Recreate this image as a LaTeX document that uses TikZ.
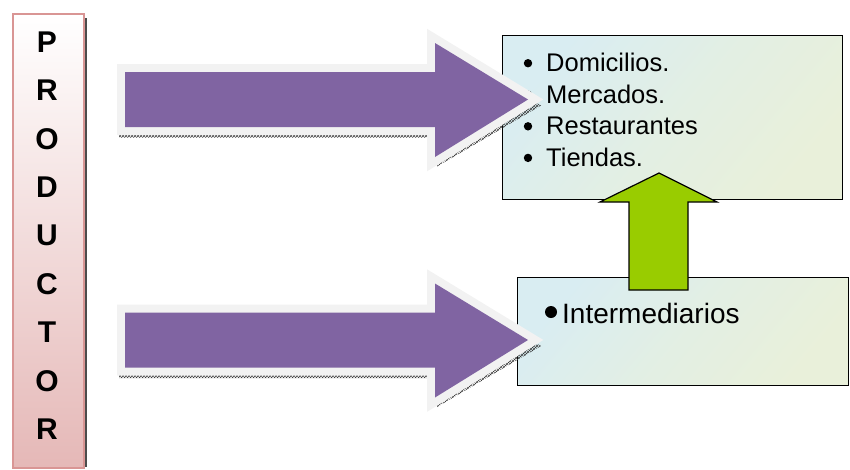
\documentclass[tikz,border=0pt]{standalone}
\usepackage{fontspec}
\setmainfont{Liberation Sans}
\usetikzlibrary{patterns}
\definecolor{purp}{HTML}{8064A2}
\definecolor{outl}{HTML}{F2F2F2}
\definecolor{prodborder}{HTML}{D99594}
\definecolor{prodbot}{HTML}{E5B8B7}
\definecolor{boxblue}{HTML}{D9EDF2}
\definecolor{boxgreen}{HTML}{E9F0DA}
\definecolor{arrgreen}{HTML}{99CC00}
\newfontfamily\prodfont[BoldFont={Liberation Sans Bold}]{Liberation Sans}
\tikzset{
  prodletter/.style={font=\prodfont\bfseries\fontsize{30}{32}\selectfont, inner sep=0pt},
  listbox/.style={draw=black, line width=1.3pt, top color=boxblue, bottom color=boxgreen, middle color=boxgreen!60!boxblue, shading angle=50, inner sep=0pt, anchor=north west},
  itemtext/.style={anchor=base west, inner sep=0pt, font=\fontsize{25.5}{30}\selectfont},
  bigitem/.style={anchor=base west, inner sep=0pt, font=\fontsize{28}{32}\selectfont},
  arrowshadow/.style={fill=gray!55, pattern=crosshatch, pattern color=gray!45!black},
  arrowoutline/.style={draw=outl, line width=16pt, line join=miter, fill=outl},
  arrowbody/.style={fill=purp},
  greenarrow/.style={fill=arrgreen, draw=black, line width=1.2pt, line join=miter}
}
\begin{document}
\begin{tikzpicture}[x=1pt, y=-1pt]
\useasboundingbox (0,0) rectangle (850,469);
% producer
\draw[gray!60!black, line width=1.5pt] (86,18) -- (86,467);
\node[draw=prodborder, line width=1.5pt, top color=white, bottom color=prodbot, minimum width=71pt, minimum height=454pt, inner sep=0pt, anchor=north west] (prod) at (12,13) {};
\foreach \l [count=\i] in {P,R,O,D,U,C,T,O,R}
  \node[prodletter] (l\i) at (47, 42+48.4*\i-48.4) {\l};
% top box
\node[listbox, minimum width=340pt, minimum height=164pt] (topbox) at (502,35) {};
\foreach \t/\y [count=\i] in {Domicilios./71.7, Mercados./103.2, Restaurantes/134.8, Tiendas./166.4}{
  \fill (528,\y-8.5) circle (4.2pt);
  \node[itemtext] (t\i) at (546,\y) {\t};
}
% bottom box
\node[listbox, minimum width=331pt, minimum height=108pt] (botbox) at (517,277) {};
\fill (551,312) circle (6pt);
\node[bigitem] (inter) at (562,323) {Intermediarios};
% green arrow
\draw[greenarrow] (629,290) -- (629,202) -- (600,202) -- (659,173) -- (717,202) -- (688,202) -- (688,290) -- cycle;
% purple arrows
\foreach \c/\n in {99.5/a, 340/b}{
  \begin{scope}[yshift=-\c pt]
    \fill[arrowshadow] (119,-22) -- (437,-22) -- (437,-51) -- (541,6) -- (437,67) -- (437,38) -- (119,38) -- cycle;
    \draw[arrowoutline] (125,-27.5) -- (435,-27.5) -- (435,-56.5) -- (528,0) -- (435,57.5) -- (435,27.5) -- (125,27.5) -- cycle;
    \fill[arrowbody] (125,-27.5) -- (435,-27.5) -- (435,-56.5) -- (528,0) -- (435,57.5) -- (435,27.5) -- (125,27.5) -- cycle;
  \end{scope}
}
\end{tikzpicture}
\end{document}
